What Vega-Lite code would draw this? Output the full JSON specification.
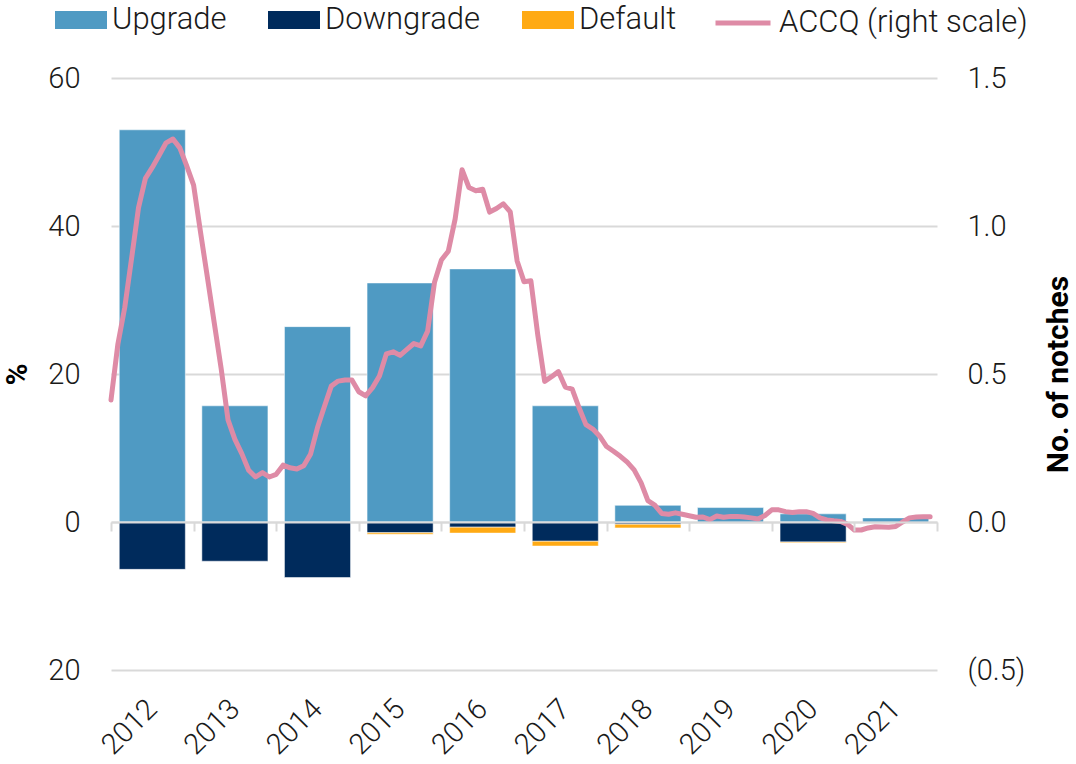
{
  "$schema": "https://vega.github.io/schema/vega-lite/v6.json",
  "width": 826,
  "height": 592,
  "autosize": {"type": "none"},
  "padding": {"left": 111, "top": 78, "right": 139, "bottom": 94},
  "background": "white",
  "config": {
    "font": "Roboto",
    "view": {"stroke": null},
    "axis": {"labelFontSize": 29, "labelColor": "#1a1a1a", "labelFont": "Roboto", "labelFontWeight": 300, "titleFont": "Roboto", "titleColor": "#000000"}
  },
  "datasets": {
    "bars": [
      {"year": "2012", "type": "Upgrade", "ord": 0, "value": 53.0},
      {"year": "2012", "type": "Downgrade", "ord": 1, "value": -6.4},
      {"year": "2013", "type": "Upgrade", "ord": 0, "value": 15.7},
      {"year": "2013", "type": "Downgrade", "ord": 1, "value": -5.3},
      {"year": "2014", "type": "Upgrade", "ord": 0, "value": 26.4},
      {"year": "2014", "type": "Downgrade", "ord": 1, "value": -7.5},
      {"year": "2015", "type": "Upgrade", "ord": 0, "value": 32.3},
      {"year": "2015", "type": "Downgrade", "ord": 1, "value": -1.45},
      {"year": "2015", "type": "Default", "ord": 2, "value": -0.2},
      {"year": "2016", "type": "Upgrade", "ord": 0, "value": 34.2},
      {"year": "2016", "type": "Downgrade", "ord": 1, "value": -0.7},
      {"year": "2016", "type": "Default", "ord": 2, "value": -0.8},
      {"year": "2017", "type": "Upgrade", "ord": 0, "value": 15.7},
      {"year": "2017", "type": "Downgrade", "ord": 1, "value": -2.6},
      {"year": "2017", "type": "Default", "ord": 2, "value": -0.65},
      {"year": "2018", "type": "Upgrade", "ord": 0, "value": 2.25},
      {"year": "2018", "type": "Downgrade", "ord": 1, "value": -0.3},
      {"year": "2018", "type": "Default", "ord": 2, "value": -0.5},
      {"year": "2019", "type": "Upgrade", "ord": 0, "value": 1.95},
      {"year": "2020", "type": "Upgrade", "ord": 0, "value": 1.1},
      {"year": "2020", "type": "Downgrade", "ord": 1, "value": -2.7},
      {"year": "2020", "type": "Default", "ord": 2, "value": -0.1},
      {"year": "2021", "type": "Upgrade", "ord": 0, "value": 0.55}
    ],
    "accq": [
      {"t": 0, "accq": 0.412}, {"t": 1, "accq": 0.601}, {"t": 2, "accq": 0.725}, {"t": 3, "accq": 0.892},
      {"t": 4, "accq": 1.062}, {"t": 5, "accq": 1.161}, {"t": 6, "accq": 1.198}, {"t": 7, "accq": 1.239},
      {"t": 8, "accq": 1.281}, {"t": 9, "accq": 1.294}, {"t": 10, "accq": 1.264}, {"t": 11, "accq": 1.203},
      {"t": 12, "accq": 1.138}, {"t": 13, "accq": 0.98}, {"t": 14, "accq": 0.827}, {"t": 15, "accq": 0.673},
      {"t": 16, "accq": 0.519}, {"t": 17, "accq": 0.345}, {"t": 18, "accq": 0.279}, {"t": 19, "accq": 0.231},
      {"t": 20, "accq": 0.175}, {"t": 21, "accq": 0.152}, {"t": 22, "accq": 0.167}, {"t": 23, "accq": 0.152},
      {"t": 24, "accq": 0.161}, {"t": 25, "accq": 0.192}, {"t": 26, "accq": 0.183}, {"t": 27, "accq": 0.179},
      {"t": 28, "accq": 0.19}, {"t": 29, "accq": 0.23}, {"t": 30, "accq": 0.319}, {"t": 31, "accq": 0.39},
      {"t": 32, "accq": 0.459}, {"t": 33, "accq": 0.476}, {"t": 34, "accq": 0.48}, {"t": 35, "accq": 0.48},
      {"t": 36, "accq": 0.44}, {"t": 37, "accq": 0.426}, {"t": 38, "accq": 0.454}, {"t": 39, "accq": 0.493},
      {"t": 40, "accq": 0.568}, {"t": 41, "accq": 0.575}, {"t": 42, "accq": 0.563}, {"t": 43, "accq": 0.583},
      {"t": 44, "accq": 0.603}, {"t": 45, "accq": 0.595}, {"t": 46, "accq": 0.645}, {"t": 47, "accq": 0.81},
      {"t": 48, "accq": 0.885}, {"t": 49, "accq": 0.915}, {"t": 50, "accq": 1.024}, {"t": 51, "accq": 1.19},
      {"t": 52, "accq": 1.13}, {"t": 53, "accq": 1.119}, {"t": 54, "accq": 1.124}, {"t": 55, "accq": 1.047},
      {"t": 56, "accq": 1.059}, {"t": 57, "accq": 1.075}, {"t": 58, "accq": 1.048}, {"t": 59, "accq": 0.882},
      {"t": 60, "accq": 0.812}, {"t": 61, "accq": 0.815}, {"t": 62, "accq": 0.632}, {"t": 63, "accq": 0.475},
      {"t": 64, "accq": 0.491}, {"t": 65, "accq": 0.508}, {"t": 66, "accq": 0.456}, {"t": 67, "accq": 0.449},
      {"t": 68, "accq": 0.386}, {"t": 69, "accq": 0.329}, {"t": 70, "accq": 0.314}, {"t": 71, "accq": 0.29},
      {"t": 72, "accq": 0.255}, {"t": 73, "accq": 0.239}, {"t": 74, "accq": 0.222}, {"t": 75, "accq": 0.202},
      {"t": 76, "accq": 0.176}, {"t": 77, "accq": 0.133}, {"t": 78, "accq": 0.072}, {"t": 79, "accq": 0.057},
      {"t": 80, "accq": 0.029}, {"t": 81, "accq": 0.026}, {"t": 82, "accq": 0.031}, {"t": 83, "accq": 0.026},
      {"t": 84, "accq": 0.021}, {"t": 85, "accq": 0.016}, {"t": 86, "accq": 0.017}, {"t": 87, "accq": 0.008},
      {"t": 88, "accq": 0.02}, {"t": 89, "accq": 0.016}, {"t": 90, "accq": 0.019}, {"t": 91, "accq": 0.019},
      {"t": 92, "accq": 0.017}, {"t": 93, "accq": 0.014}, {"t": 94, "accq": 0.01}, {"t": 95, "accq": 0.022},
      {"t": 96, "accq": 0.041}, {"t": 97, "accq": 0.041}, {"t": 98, "accq": 0.035}, {"t": 99, "accq": 0.032},
      {"t": 100, "accq": 0.035}, {"t": 101, "accq": 0.035}, {"t": 102, "accq": 0.029}, {"t": 103, "accq": 0.014},
      {"t": 104, "accq": 0.007}, {"t": 105, "accq": 0.004}, {"t": 106, "accq": 0.002}, {"t": 107, "accq": -0.008},
      {"t": 108, "accq": -0.027}, {"t": 109, "accq": -0.027}, {"t": 110, "accq": -0.02}, {"t": 111, "accq": -0.016},
      {"t": 112, "accq": -0.017}, {"t": 113, "accq": -0.018}, {"t": 114, "accq": -0.015}, {"t": 115, "accq": 0.0},
      {"t": 116, "accq": 0.014}, {"t": 117, "accq": 0.017}, {"t": 118, "accq": 0.018}, {"t": 119, "accq": 0.018}
    ]
  },
  "layer": [
    {
      "data": {"name": "bars"},
      "mark": {"type": "bar", "stroke": "#ffffff", "strokeWidth": 1, "strokeOpacity": 0.5},
      "encoding": {
        "x": {
          "field": "year", "type": "ordinal",
          "scale": {"paddingInner": 0.2, "paddingOuter": 0.1},
          "axis": {"orient": "bottom", "title": null, "labelAngle": -45, "labelAlign": "right", "labelBaseline": "middle", "labelPadding": 34, "ticks": false, "tickSize": 0, "domain": false, "grid": false, "labelFontSize": 29}
        },
        "y": {
          "field": "value", "type": "quantitative", "stack": "zero",
          "scale": {"domain": [-20, 60], "nice": false},
          "axis": {
            "values": [-20, 0, 20, 40, 60], "labelExpr": "abs(datum.value)",
            "grid": true, "gridColor": "#d9d9d9", "gridWidth": 2,
            "domain": false, "ticks": false, "labelPadding": 31,
            "title": "%", "titleFontSize": 30, "titleFontWeight": "bold",
            "titleX": -94, "titleY": 296, "titleAngle": -90, "titleAlign": "center", "titleBaseline": "middle"
          }
        },
        "color": {
          "field": "type", "type": "nominal",
          "scale": {"domain": ["Upgrade", "Downgrade", "Default"], "range": ["#4f9ac3", "#002b5c", "#ffaa14"]},
          "legend": {
            "orient": "none", "legendX": -56, "legendY": -84, "direction": "horizontal", "title": null,
            "symbolType": "M-1,-0.35H1V0.35H-1Z", "symbolSize": 2704, "symbolStrokeWidth": 0, "symbolOpacity": 1,
            "labelFontSize": 31, "labelOffset": 5, "columnPadding": 41, "labelLimit": 0, "labelFont": "Roboto", "labelFontWeight": 300, "labelColor": "#1a1a1a", "padding": 0
          }
        },
        "order": {"field": "ord", "type": "quantitative"}
      }
    },
    {
      "data": {"name": "accq"},
      "mark": {"type": "line", "strokeWidth": 5, "strokeJoin": "round", "strokeCap": "round"},
      "encoding": {
        "x": {
          "field": "t", "type": "quantitative",
          "scale": {"domain": [0, 120], "nice": false, "zero": false},
          "axis": {"orient": "bottom", "offset": -148, "values": [0, 12, 24, 36, 48, 60, 72, 84, 96, 108, 120], "labels": false, "grid": false, "title": null, "domain": true, "domainColor": "#d9d9d9", "domainWidth": 2, "ticks": true, "tickColor": "#d9d9d9", "tickWidth": 2, "tickSize": 9, "zindex": 1}
        },
        "y": {
          "field": "accq", "type": "quantitative",
          "scale": {"domain": [-0.5, 1.5], "nice": false},
          "axis": {
            "orient": "right", "values": [-0.5, 0, 0.5, 1, 1.5],
            "labelExpr": "datum.value < 0 ? '(' + format(-datum.value, '.1f') + ')' : format(datum.value, '.1f')",
            "labelAlign": "left", "labelPadding": 30, "ticks": false, "domain": false, "grid": false,
            "title": "No. of notches", "titleFontSize": 30, "titleFontWeight": "bold",
            "titleX": 121, "titleY": 296, "titleAngle": -90, "titleAlign": "center", "titleBaseline": "middle"
          }
        },
        "color": {
          "datum": "ACCQ (right scale)",
          "scale": {"range": ["#de8ba6"]},
          "legend": {
            "orient": "none", "legendX": 602, "legendY": -85, "title": null,
            "symbolType": "stroke", "symbolSize": 3025, "symbolStrokeWidth": 5,
            "labelFontSize": 31, "labelOffset": 6, "labelLimit": 0, "labelFont": "Roboto", "labelFontWeight": 300, "labelColor": "#1a1a1a", "padding": 0
          }
        }
      }
    }
  ],
  "resolve": {"scale": {"x": "independent", "y": "independent", "color": "independent"}}
}
